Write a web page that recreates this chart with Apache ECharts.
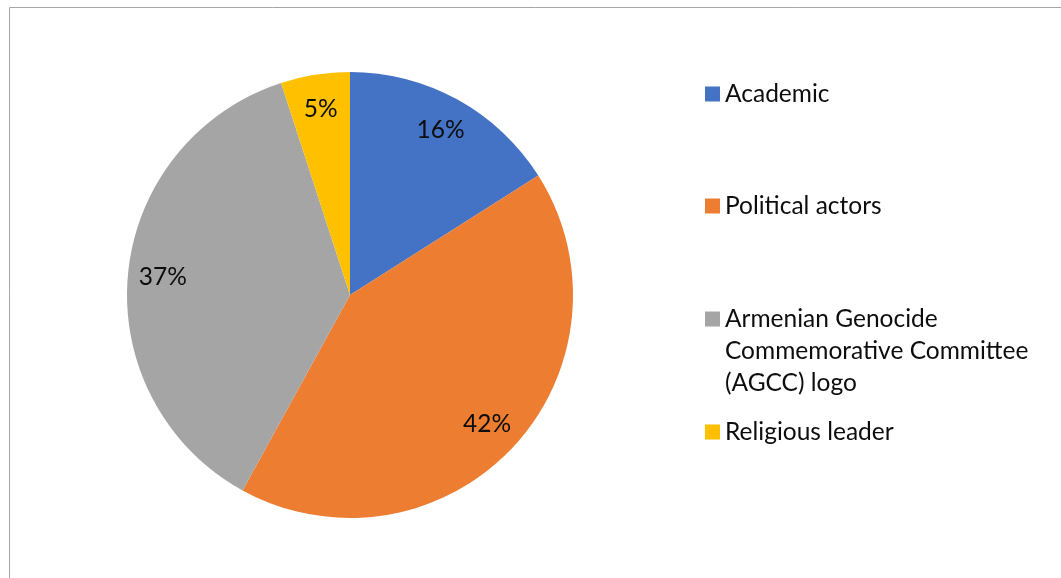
<!DOCTYPE html>
<html>
<head>
<meta charset="utf-8">
<script src="https://cdn.jsdelivr.net/npm/echarts@6/dist/echarts.min.js"></script>
<style>
  html, body { margin: 0; padding: 0; background: #ffffff; }
  #chart { width: 1061px; height: 578px; }
</style>
</head>
<body>
<div id="chart"></div>
<script>
// Share of image types (percent)
const categories = [
  'Academic',
  'Political actors',
  'Armenian Genocide\nCommemorative Committee\n(AGCC) logo',
  'Religious leader'
];
const shares = [16, 42, 37, 5];
const colors = ['#4472C4', '#ED7D31', '#A5A5A5', '#FFC000'];

const pieData = categories.map((name, i) => ({ name, value: shares[i] }));

const CENTER = [350, 295];
const RADIUS = 223;
const FONT = 'Lato, "Open Sans", "Noto Sans", sans-serif';
const TEXT_COLOR = '#0d0d0d';
const LEGEND_FONT = 24.5;
const LABEL_FONT = 24.5;
const LINE_H = 32;

// Vertical centre of each legend row (first text line)
const legendRowY = [94, 206, 319, 432];
const LEGEND_LEFT = 705;
const ICON = 15;

// One legend block per entry; only the first line of a wrapped name sits
// in the legend, the remaining lines are drawn beneath it
const legends = categories.map((name, i) => ({
  data: [name],
  orient: 'vertical',
  left: LEGEND_LEFT,
  top: legendRowY[i] - LINE_H / 2,
  padding: 0,
  itemWidth: ICON,
  itemHeight: ICON,
  icon: 'rect',
  selectedMode: false,
  formatter: n => n.split('\n')[0],
  textStyle: {
    fontFamily: FONT,
    fontSize: LEGEND_FONT,
    color: TEXT_COLOR,
    lineHeight: LINE_H
  }
}));

const wrapped = [];
categories.forEach((name, i) => {
  const lines = name.split('\n');
  if (lines.length > 1) {
    wrapped.push({
      type: 'text',
      left: LEGEND_LEFT + ICON + 5,
      top: legendRowY[i] + LINE_H / 2,
      silent: true,
      style: {
        text: lines.slice(1).join('\n'),
        fontFamily: FONT,
        fontSize: LEGEND_FONT,
        lineHeight: LINE_H,
        fill: TEXT_COLOR
      }
    });
  }
});

const chart = echarts.init(document.getElementById('chart'), null, { renderer: 'canvas' });
chart.setOption({
  backgroundColor: '#ffffff',
  animation: false,
  color: colors,
  legend: legends,
  graphic: [{
    type: 'rect',
    shape: { x: 9.5, y: 7.5, width: 1100, height: 620 },
    style: { fill: 'none', stroke: '#a6a6a6', lineWidth: 1 },
    silent: true
  }].concat(wrapped),
  series: [
    {
      type: 'pie',
      center: CENTER,
      radius: [0, RADIUS],
      startAngle: 90,
      clockwise: true,
      data: pieData,
      label: { show: false },
      labelLine: { show: false },
      itemStyle: { borderWidth: 0 },
      emphasis: { disabled: true }
    },
    {
      // transparent ring carrying the percentage labels out toward the rim
      type: 'pie',
      center: CENTER,
      radius: [147, RADIUS],
      startAngle: 90,
      clockwise: true,
      data: pieData,
      silent: true,
      itemStyle: { color: 'rgba(0,0,0,0)', borderWidth: 0 },
      label: {
        show: true,
        position: 'inside',
        formatter: '{c}%',
        fontFamily: FONT,
        fontSize: LABEL_FONT,
        color: TEXT_COLOR
      },
      labelLine: { show: false },
      emphasis: { disabled: true }
    }
  ]
});
</script>
</body>
</html>
